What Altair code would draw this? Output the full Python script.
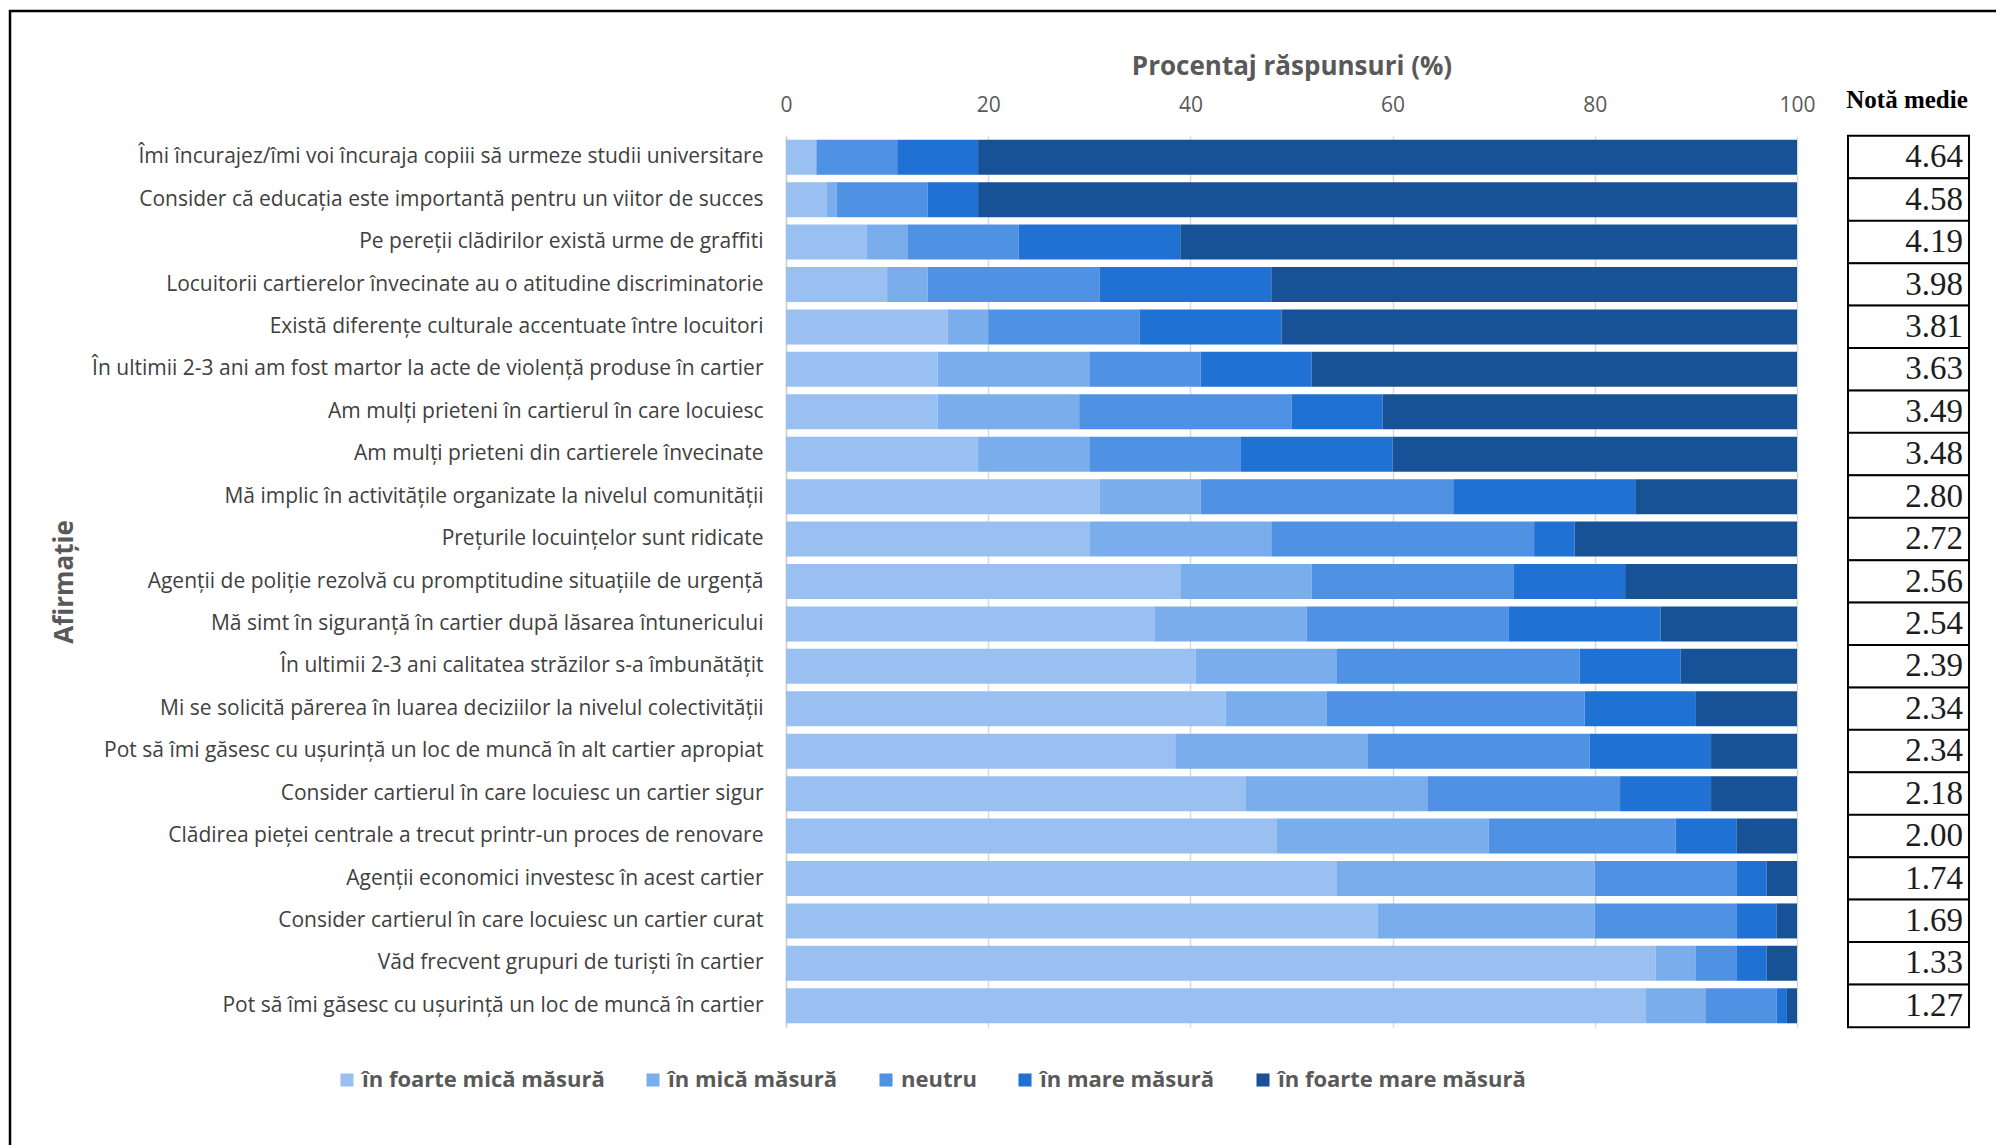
import altair as alt
import pandas as pd

statements = [
    "Îmi încurajez/îmi voi încuraja copiii să urmeze studii universitare",
    "Consider că educația este importantă pentru un viitor de succes",
    "Pe pereții clădirilor există urme de graffiti",
    "Locuitorii cartierelor învecinate au o atitudine discriminatorie",
    "Există diferențe culturale accentuate între locuitori",
    "În ultimii 2-3 ani am fost martor la acte de violență produse în cartier",
    "Am mulți prieteni în cartierul în care locuiesc",
    "Am mulți prieteni din cartierele învecinate",
    "Mă implic în activitățile organizate la nivelul comunității",
    "Prețurile locuințelor sunt ridicate",
    "Agenții de poliție rezolvă cu promptitudine situațiile de urgență",
    "Mă simt în siguranță în cartier după lăsarea întunericului ",
    "În ultimii 2-3 ani calitatea străzilor s-a îmbunătățit",
    "Mi se solicită părerea în luarea deciziilor la nivelul colectivității",
    "Pot să îmi găsesc cu ușurință un loc de muncă în alt cartier apropiat",
    "Consider cartierul în care locuiesc un cartier sigur",
    "Clădirea pieței centrale a trecut printr-un proces de renovare",
    "Agenții economici investesc în acest cartier",
    "Consider cartierul în care locuiesc un cartier curat",
    "Văd frecvent grupuri de turiști în cartier",
    "Pot să îmi găsesc cu ușurință un loc de muncă în cartier",
]

categories = ["în foarte mică măsură", "în mică măsură", "neutru",
              "în mare măsură", "în foarte mare măsură"]
colors = ["#99C0F1", "#7AADEB", "#4F91E3", "#1F71D3", "#175297"]

foarte_mica = [3, 4, 8, 10, 16, 15, 15, 19, 31, 30, 39, 36.5, 40.5, 43.5, 38.5, 45.5, 48.5, 54.5, 58.5, 86, 85]
mica        = [0, 1, 4, 4, 4, 15, 14, 11, 10, 18, 13, 15, 14, 10, 19, 18, 21, 25.5, 21.5, 4, 6]
neutru      = [8, 9, 11, 17, 15, 11, 21, 15, 25, 26, 20, 20, 24, 25.5, 22, 19, 18.5, 14, 14, 4, 7]
mare        = [8, 5, 16, 17, 14, 11, 9, 15, 18, 4, 11, 15, 10, 11, 12, 9, 6, 3, 4, 3, 1]
foarte_mare = [81, 81, 61, 52, 51, 48, 41, 40, 16, 22, 17, 13.5, 11.5, 10, 8.5, 8.5, 6, 3, 2, 3, 1]

note_medii = [4.64, 4.58, 4.19, 3.98, 3.81, 3.63, 3.49, 3.48, 2.80, 2.72, 2.56,
              2.54, 2.39, 2.34, 2.34, 2.18, 2.00, 1.74, 1.69, 1.33, 1.27]

series = [foarte_mica, mica, neutru, mare, foarte_mare]
rows = []
for ci, (cat, vals) in enumerate(zip(categories, series)):
    for s, v in zip(statements, vals):
        rows.append({"Afirmatie": s, "Categorie": cat, "ord": ci, "Procent": v})
df = pd.DataFrame(rows)

notes_df = pd.DataFrame({"Afirmatie": statements,
                         "Nota": [f"{n:.2f}" for n in note_medii]})
single = pd.DataFrame({"t": ["Notă medie"]})

W, H = 1011, 891
LABEL_FONT = "Open Sans"

y_axis = alt.Axis(title="Afirmație", domain=True, domainColor="#D0D0D0",
                  domainWidth=1.5, ticks=False, labelPadding=23,
                  labelLimit=1200, labelFont=LABEL_FONT,
                  labelFontSize=21, labelColor="#404040",
                  titleFont=LABEL_FONT, titleFontSize=26,
                  titleFontWeight="bold", titleColor="#595959",
                  titleX=-722, titleY=H / 2, titleAngle=270,
                  titleAlign="center", titleBaseline="middle")
y_scale = alt.Scale(paddingInner=0.175, paddingOuter=0.0875)


def y_enc():
    return alt.Y("Afirmatie:N", sort=statements, scale=y_scale, axis=y_axis)


bars = alt.Chart(df).mark_bar().encode(
    x=alt.X("Procent:Q", stack="zero",
            scale=alt.Scale(domain=[0, 100], nice=False),
            axis=alt.Axis(orient="top", values=[0, 20, 40, 60, 80, 100],
                          grid=True, gridColor="#D9D9D9", gridWidth=1.5,
                          domain=False, ticks=False, labelPadding=21,
                          labelFlush=False,
                          labelFont=LABEL_FONT, labelFontSize=21,
                          labelColor="#595959",
                          title="Procentaj răspunsuri (%)",
                          titleFont=LABEL_FONT, titleFontSize=26,
                          titleFontWeight="bold", titleColor="#595959",
                          titleX=W / 2, titleY=-70, titleAlign="center",
                          titleBaseline="middle")),
    y=y_enc(),
    color=alt.Color("Categorie:N", sort=categories,
                    scale=alt.Scale(domain=categories, range=colors),
                    legend=alt.Legend(title=None, orient="none",
                                      direction="horizontal", columns=5,
                                      legendX=-450, legendY=933,
                                      symbolType="square", symbolSize=170,
                                      symbolStrokeWidth=0, labelOffset=4,
                                      columnPadding=37,
                                      labelFont=LABEL_FONT, labelFontSize=22,
                                      labelFontWeight="bold",
                                      labelColor="#595959", labelLimit=400)),
    order=alt.Order("ord:Q"),
)

cells = alt.Chart(notes_df).mark_bar(
    height=alt.RelativeBandSize(band=1.22), fill="white",
    stroke="black", strokeWidth=2
).encode(
    x=alt.value(1062), x2=alt.value(1183),
    y=y_enc(),
)

notes = alt.Chart(notes_df).mark_text(
    align="right", baseline="middle", font="Liberation Serif",
    fontSize=33, color="#1c1c1c"
).encode(
    x=alt.value(1177),
    y=y_enc(),
    text="Nota:N",
)

header = alt.Chart(single).mark_text(
    align="center", baseline="middle", font="Liberation Serif",
    fontSize=25, fontWeight="bold", color="black"
).encode(x=alt.value(1121), y=alt.value(-36), text="t:N")

frame = alt.Chart(single).mark_rect(
    fill=None, stroke="black", strokeWidth=2.5
).encode(x=alt.value(-776), x2=alt.value(1400),
         y=alt.value(-125), y2=alt.value(1200))

chart = alt.layer(frame, bars, cells, notes, header).properties(
    width=W, height=H,
    autosize=alt.AutoSizeParams(type="none"),
    padding={"left": 778, "top": 128, "right": 199, "bottom": 118},
).configure_view(stroke=None)

chart.save("out.html", embed_options={"renderer": "svg", "actions": False})
